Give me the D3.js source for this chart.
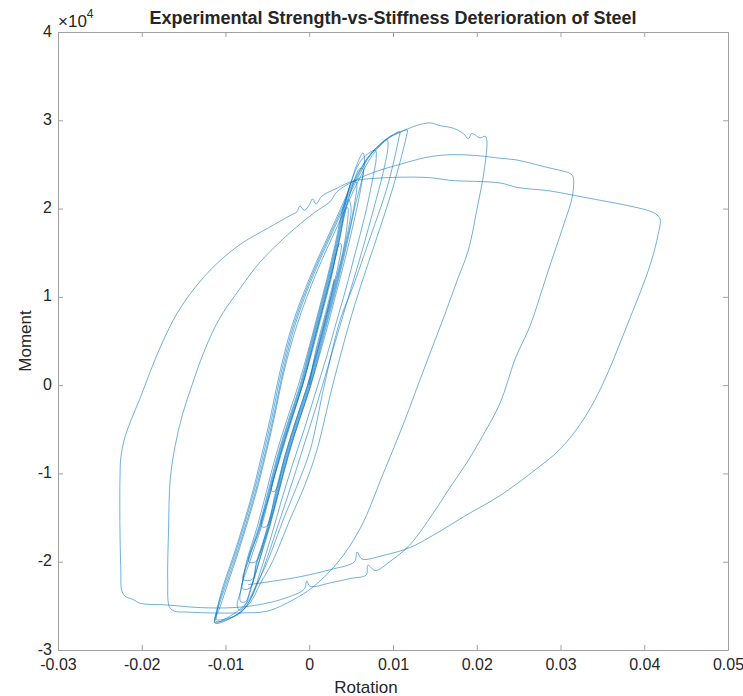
<!DOCTYPE html>
<html>
<head>
<meta charset="utf-8">
<script src="https://cdn.jsdelivr.net/npm/d3@7"></script>
<style>
  body { margin: 0; background: #fff; }
  text { font-family: "Liberation Sans", Arial, sans-serif; fill: #262626; }
</style>
</head>
<body>
<div id="chart"></div>
<script>
// tick values and labels
var xTicks = [-0.03, -0.02, -0.01, 0, 0.01, 0.02, 0.03, 0.04, 0.05];
var xTickLabels = ["-0.03", "-0.02", "-0.01", "0", "0.01", "0.02", "0.03", "0.04", "0.05"];
var yTicks = [-30000, -20000, -10000, 0, 10000, 20000, 30000, 40000];
var yTickLabels = ["-3", "-2", "-1", "0", "1", "2", "3", "4"];

// [rotation, moment], in loading order
var elasticCycles = [
  [0, 0], [0.0008, 4000], [0.0019, 8000], [0.0030, 12000],
  [0.0021, 8000], [0.0010, 4000], [-0.0002, 0], [-0.0016, -4000], [-0.0029, -8000], [-0.0041, -12000],
  [-0.0045, -12000], [-0.0034, -8000], [-0.0021, -4000], [-0.0008, 0], [0.0004, 4000], [0.0015, 8000], [0.0026, 12000], [0.0036, 16000],
  [0.0038, 16000], [0.0031, 12000], [0.0020, 8000], [0.0009, 4000], [-0.0002, 0], [-0.0016, -4000], [-0.0029, -8000], [-0.0040, -12000], [-0.0051, -16000],
  [-0.0057, -16000], [-0.0046, -12000], [-0.0035, -8000], [-0.0022, -4000], [-0.0008, 0], [0.0003, 4000], [0.0014, 8000], [0.0025, 12000], [0.0035, 16000], [0.0044, 20000],
  [0.0046, 20100], [0.0042, 16000], [0.0032, 12000], [0.0021, 8000], [0.0010, 4000], [-0.0001, 0], [-0.0015, -4000], [-0.0028, -8000], [-0.0039, -12000], [-0.0050, -16000], [-0.0064, -20000],
  [-0.0072, -20000], [-0.0058, -16000], [-0.0047, -12000], [-0.0036, -8000], [-0.0023, -4000], [-0.0009, 0], [0.0002, 4000], [0.0013, 8000], [0.0024, 12000], [0.0034, 16000], [0.0043, 20000], [0.0047, 21000],
  [0.0050, 20000], [0.0043, 16000], [0.0033, 12000], [0.0022, 8000], [0.0011, 4000], [0.0000, 0], [-0.0014, -4000], [-0.0027, -8000], [-0.0038, -12000], [-0.0049, -16000], [-0.0063, -20000], [-0.0068, -22000],
  [-0.0079, -22000], [-0.0073, -20000], [-0.0059, -16000], [-0.0048, -12000], [-0.0037, -8000], [-0.0024, -4000], [-0.0010, 0], [0.0001, 4000], [0.0012, 8000], [0.0023, 12000], [0.0033, 16000], [0.0042, 20000], [0.0051, 23000],
  [0.0056, 23000], [0.0053, 20000], [0.0044, 16000], [0.0034, 12000], [0.0023, 8000], [0.0012, 4000], [0.0001, 0], [-0.0013, -4000], [-0.0026, -8000], [-0.0037, -12000], [-0.0048, -16000], [-0.0062, -20000], [-0.0071, -23000],
  [-0.0080, -23000], [-0.0071, -20000], [-0.0057, -16000], [-0.0046, -12000], [-0.0035, -8000], [-0.0022, -4000], [-0.0008, 0], [0.0003, 4000], [0.0014, 8000], [0.0025, 12000], [0.0035, 16000], [0.0044, 20000], [0.0053, 23000], [0.0060, 24500],
  [0.0064, 24500], [0.0054, 20000], [0.0045, 16000], [0.0035, 12000], [0.0024, 8000], [0.0013, 4000], [0.0002, 0], [-0.0012, -4000], [-0.0025, -8000], [-0.0036, -12000], [-0.0047, -16000], [-0.0060, -20000], [-0.0070, -23000], [-0.0076, -24500]
];

var cycleM1 = [
  [-0.0082, -24500], [-0.0074, -20000], [-0.0060, -16000], [-0.0049, -12000], [-0.0038, -8000], [-0.0025, -4000], [-0.0011, 0], [0.0000, 4000], [0.0011, 8000], [0.0022, 12000], [0.0032, 16000], [0.0041, 20000], [0.0050, 23000], [0.0057, 25000], [0.0064, 26300],
  [0.0066, 25500], [0.0061, 22000], [0.0052, 18000], [0.0042, 14000], [0.0031, 10000], [0.0020, 6000], [0.0008, 2000], [-0.0005, -2000], [-0.0019, -6000], [-0.0031, -10000], [-0.0042, -14000], [-0.0054, -18000], [-0.0066, -22000], [-0.0077, -25000], [-0.0083, -25500]
];

var cycleM2 = [
  [-0.0086, -25000], [-0.0081, -23000], [-0.0075, -20000], [-0.0062, -16000], [-0.0051, -12000], [-0.0040, -8000], [-0.0027, -4000], [-0.0013, 0], [-0.0001, 4000], [0.0010, 8000], [0.0021, 12000], [0.0031, 16000], [0.0040, 20000], [0.0050, 23000], [0.0060, 25200], [0.0070, 26200], [0.0079, 26600],
  [0.0080, 25800], [0.0075, 23000], [0.0066, 19000], [0.0055, 15000], [0.0044, 11000], [0.0032, 7000], [0.0020, 3000], [0.0007, -1000], [-0.0006, -5000], [-0.0020, -9000], [-0.0033, -13000], [-0.0045, -17000], [-0.0058, -21000], [-0.0069, -24000], [-0.0082, -25800], [-0.0097, -26400], [-0.0110, -26600]
];

var cycleM3 = [
  [-0.0111, -26500], [-0.0109, -25100], [-0.0101, -22600], [-0.0086, -18400], [-0.0067, -12400], [-0.0055, -7900], [-0.0045, -3800], [-0.0033, 1600], [-0.0018, 7000], [0.0004, 12600], [0.0031, 18300], [0.0055, 23200], [0.0070, 25800], [0.0082, 27000], [0.0093, 27800],
  [0.0094, 27000], [0.0088, 24000], [0.0077, 20000], [0.0064, 15500], [0.0050, 11000], [0.0036, 6500], [0.0022, 2000], [0.0008, -2500], [-0.0007, -7000], [-0.0022, -11500], [-0.0036, -15500], [-0.0050, -19500], [-0.0063, -22800], [-0.0075, -25000], [-0.0090, -26200], [-0.0108, -26800]
];

var cycleM4 = [
  [-0.0112, -26700], [-0.0106, -25000], [-0.0097, -22400], [-0.0083, -18400], [-0.0064, -12400], [-0.0052, -7900], [-0.0042, -3800], [-0.0030, 1600], [-0.0014, 7000], [0.0008, 12600], [0.0035, 18300], [0.0059, 23200], [0.0075, 26000], [0.0090, 27600], [0.0108, 28700],
  [0.0107, 28000], [0.0093, 22400], [0.0073, 16800], [0.0052, 11100], [0.0037, 7400], [0.0018, 0], [0.0001, -7400], [-0.0015, -11500], [-0.0030, -15000], [-0.0050, -20000], [-0.0062, -22400], [-0.0075, -24700], [-0.0092, -26000], [-0.0110, -26900]
];

var cycleM5 = [
  [-0.0113, -26900], [-0.0110, -25300], [-0.0103, -22800], [-0.0088, -18600], [-0.0069, -12600], [-0.0057, -8000], [-0.0047, -3900], [-0.0035, 1500], [-0.0020, 6900], [0.0002, 12500], [0.0029, 18200], [0.0053, 23100], [0.0072, 26000], [0.0093, 27900], [0.0108, 28600], [0.0117, 28900],
  [0.0116, 28200], [0.0100, 22400], [0.0081, 16800], [0.0061, 11100], [0.0049, 7400], [0.0028, 0], [0.0009, -7400], [-0.0006, -11500], [-0.0022, -15000], [-0.0044, -20000], [-0.0058, -22400], [-0.0071, -24700], [-0.0090, -26200], [-0.0111, -27000]
];

var cycleB = [
  [-0.0113, -26800], [-0.0108, -25000], [-0.0099, -22500], [-0.0084, -18300], [-0.0065, -12300], [-0.0053, -7800], [-0.0043, -3700], [-0.0031, 1700], [-0.0016, 7100], [0.0006, 12700], [0.0033, 18400], [0.0057, 23300], [0.0074, 26200], [0.0095, 28100], [0.0117, 29000],
  [0.0128, 29400], [0.0144, 29700], [0.0156, 29400], [0.0172, 29100], [0.0184, 28500], [0.0190, 27900], [0.0194, 28500], [0.0204, 28000], [0.0210, 28200], [0.0212, 27800],
  [0.0209, 24400], [0.0200, 19800], [0.0190, 15300], [0.0176, 11700], [0.0163, 8300], [0.0149, 4800], [0.0133, 800], [0.0112, -4500], [0.0088, -10100], [0.0061, -16200], [0.0033, -20200], [0.0004, -22900], [-0.0019, -24300], [-0.0050, -25600],
  [-0.0083, -25800], [-0.0118, -25800], [-0.0146, -25700], [-0.0161, -25600], [-0.0167, -25100], [-0.0169, -22100], [-0.0168, -16400], [-0.0166, -10700],
  [-0.0160, -6800], [-0.0151, -3200], [-0.0140, 0], [-0.0126, 3700], [-0.0108, 7400], [-0.0086, 10500], [-0.0059, 13900], [-0.0025, 17100], [0.0007, 19600], [0.0025, 20800], [0.0033, 21900],
  [0.0057, 23300], [0.0080, 24200], [0.0108, 25000], [0.0140, 25800], [0.0168, 26100], [0.0200, 26000], [0.0228, 25700], [0.0248, 25500], [0.0270, 25000], [0.0287, 24600], [0.0305, 24200], [0.0311, 24000], [0.0315, 23600]
];

var cycleC = [
  [0.0314, 21300], [0.0306, 18800], [0.0299, 16800], [0.0289, 14000], [0.0279, 11100], [0.0264, 6800], [0.0246, 3000], [0.0228, -2000], [0.0208, -5600], [0.0188, -8800], [0.0168, -11600], [0.0148, -14500], [0.0120, -18100], [0.0096, -20000], [0.0079, -21000],
  [0.0070, -20400], [0.0068, -21500], [0.0049, -21900], [0.0025, -22400], [0.0001, -22800], [-0.0003, -22200], [-0.0006, -23100], [-0.0031, -24200], [-0.0062, -24900], [-0.0091, -25200], [-0.0130, -25200], [-0.0170, -24900], [-0.0202, -24700], [-0.0210, -24300], [-0.0220, -23900], [-0.0224, -23200],
  [-0.0225, -20900], [-0.0226, -16400], [-0.0226, -10700], [-0.0225, -8200],
  [-0.0221, -6200], [-0.0213, -4000], [-0.0202, -1500], [-0.0190, 1500], [-0.0176, 4700], [-0.0158, 8100], [-0.0136, 11100], [-0.0110, 13800], [-0.0080, 16100], [-0.0049, 17800], [-0.0021, 19300],
  [-0.0015, 19600], [-0.0011, 20300], [-0.0006, 19800], [0.0000, 20400], [0.0004, 21100], [0.0008, 20500], [0.0015, 21400], [0.0033, 22300],
  [0.0052, 23100], [0.0093, 23500], [0.0144, 23500], [0.0168, 23200], [0.0228, 22900], [0.0248, 22400], [0.0287, 22000], [0.0327, 21300], [0.0387, 20200], [0.0407, 19700], [0.0415, 19300], [0.0419, 18800]
];

var cycleD = [
  [0.0416, 16800], [0.0408, 13900], [0.0396, 10700], [0.0383, 7600], [0.0370, 4500], [0.0357, 1500], [0.0341, -1700], [0.0323, -4500], [0.0299, -7300], [0.0267, -9800], [0.0228, -12500], [0.0188, -14700], [0.0148, -17000], [0.0120, -18400], [0.0088, -19300],
  [0.0063, -19700], [0.0057, -18900], [0.0054, -20000], [0.0025, -20900], [-0.0011, -21700], [-0.0050, -22300], [-0.0073, -22600]
];

var trace = [].concat(elasticCycles, cycleM1, cycleM2, cycleM3, cycleM4, cycleM5, cycleB, cycleC, cycleD);

var width = 743, height = 696;
var axLeft = 58, axRight = 728, axTop = 32, axBottom = 650;

var svg = d3.select("#chart").append("svg")
    .attr("width", width)
    .attr("height", height);

var xScale = d3.scaleLinear().domain([-0.03, 0.05]).range([axLeft, axRight]);
var yScale = d3.scaleLinear().domain([-30000, 40000]).range([axBottom, axTop]);

// data line (clipped to the axes box)
svg.append("clipPath").attr("id", "box")
  .append("rect").attr("x", axLeft).attr("y", axTop)
  .attr("width", axRight - axLeft).attr("height", axBottom - axTop);

var line = d3.line()
    .x(function(d) { return xScale(d[0]); })
    .y(function(d) { return yScale(d[1]); })
    .curve(d3.curveCatmullRom.alpha(0.5));

svg.append("path")
    .datum(trace)
    .attr("clip-path", "url(#box)")
    .attr("fill", "none")
    .attr("stroke", "#0072BD")
    .attr("stroke-opacity", 0.7)
    .attr("stroke-width", 0.8)
    .attr("stroke-linejoin", "round")
    .attr("d", line);

// axes, ticks pointing inward like MATLAB
var xAxis = d3.axisBottom(xScale).tickValues(xTicks)
    .tickFormat(function(d, i) { return xTickLabels[i]; })
    .tickSizeInner(-5).tickSizeOuter(0).tickPadding(9);
var yAxis = d3.axisLeft(yScale).tickValues(yTicks)
    .tickFormat(function(d, i) { return yTickLabels[i]; })
    .tickSizeInner(-5).tickSizeOuter(0).tickPadding(6);

svg.append("g").attr("class", "axis")
    .attr("transform", "translate(0," + axBottom + ")").call(xAxis);
svg.append("g").attr("class", "axis")
    .attr("transform", "translate(" + axLeft + ",0)").call(yAxis);
svg.append("g").attr("class", "axis")
    .attr("transform", "translate(0," + axTop + ")")
    .call(d3.axisTop(xScale).tickValues(xTicks).tickFormat("").tickSizeInner(-5).tickSizeOuter(0));
svg.append("g").attr("class", "axis")
    .attr("transform", "translate(" + axRight + ",0)")
    .call(d3.axisRight(yScale).tickValues(yTicks).tickFormat("").tickSizeInner(-5).tickSizeOuter(0));

svg.selectAll(".axis path, .axis line").attr("stroke", "#a0a0a0").attr("stroke-width", 1);
svg.selectAll(".axis text").attr("font-size", 16).attr("fill", "#262626")
    .attr("font-family", "'Liberation Sans', Arial, sans-serif");
// lift the y labels a touch so "-3" clears "-0.03"
svg.selectAll(".axis text").filter(function() { return this.getAttribute("x") !== null && +this.getAttribute("x") < 0; })
    .attr("dy", "0.25em");

// exponent label
var expo = svg.append("text").attr("x", axLeft).attr("y", 27).attr("font-size", 17);
expo.append("tspan").text("\u00d710");
expo.append("tspan").attr("dy", -9).attr("font-size", 12).text("4");

// labels and title
svg.append("text")
    .attr("x", 366).attr("y", 693)
    .attr("text-anchor", "middle").attr("font-size", 17)
    .text("Rotation");

svg.append("text")
    .attr("transform", "translate(31," + ((axTop + axBottom) / 2) + ") rotate(-90)")
    .attr("text-anchor", "middle").attr("font-size", 17)
    .text("Moment");

svg.append("text")
    .attr("x", (axLeft + axRight) / 2).attr("y", 24)
    .attr("text-anchor", "middle").attr("font-size", 18).attr("font-weight", "bold")
    .attr("fill", "#000")
    .text("Experimental Strength-vs-Stiffness Deterioration of Steel");
</script>
</body>
</html>
